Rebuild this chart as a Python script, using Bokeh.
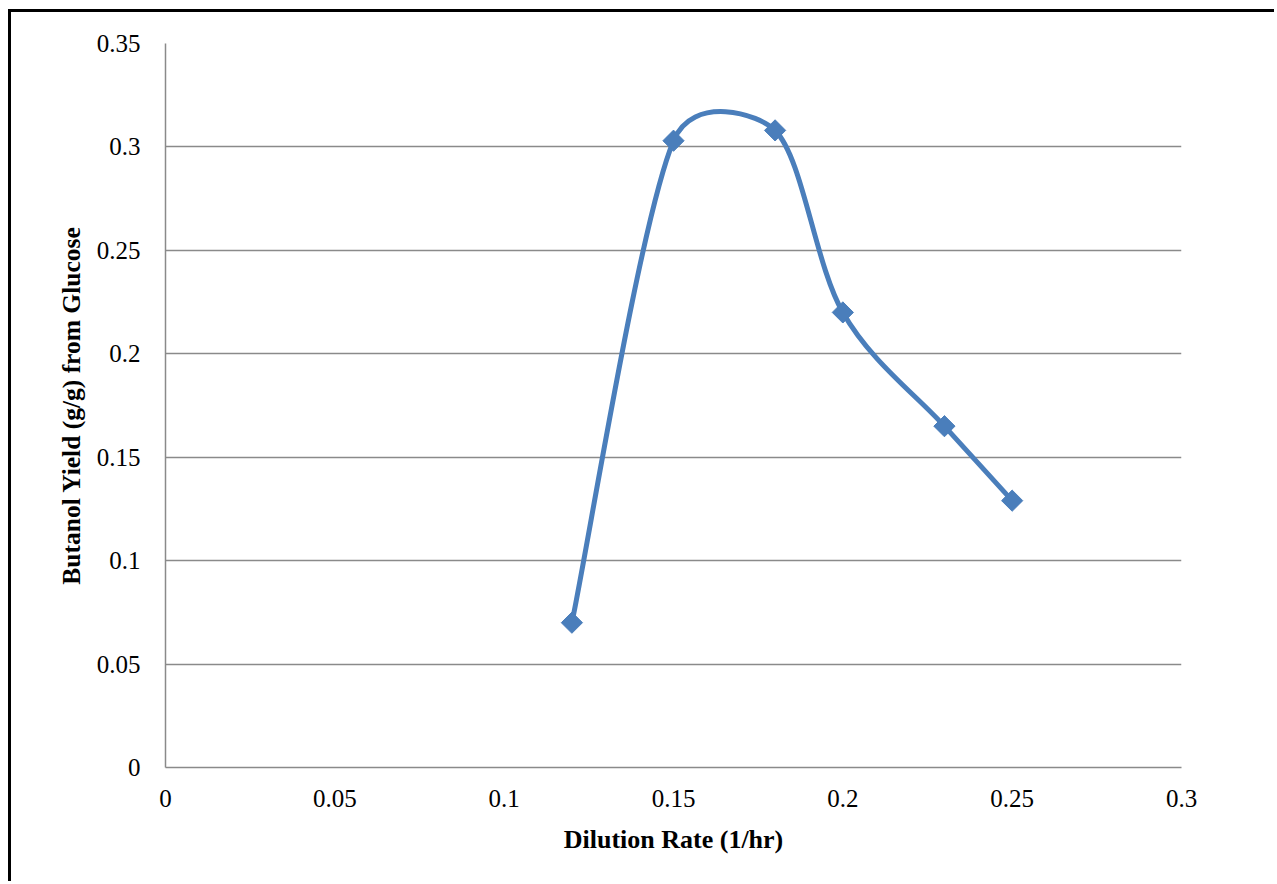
import math
from bokeh.plotting import figure
from bokeh.models import FixedTicker, Range1d
from bokeh.embed import file_html
from bokeh.resources import INLINE

# ---- data ----
dilution_rate = [0.12, 0.15, 0.18, 0.20, 0.23, 0.25]
butanol_yield = [0.070, 0.303, 0.308, 0.220, 0.165, 0.129]

x_ticks = [0, 0.05, 0.1, 0.15, 0.2, 0.25, 0.3]
x_tick_labels = ["0", "0.05", "0.1", "0.15", "0.2", "0.25", "0.3"]
y_ticks = [0, 0.05, 0.1, 0.15, 0.2, 0.25, 0.3, 0.35]
y_tick_labels = ["0", "0.05", "0.1", "0.15", "0.2", "0.25", "0.3", "0.35"]

x_title = "Dilution Rate (1/hr)"
y_title = "Butanol Yield (g/g) from Glucose"

# ---- layout ----
W, H = 1266, 872
FL, FT, FR, FB = 154, 31, 96, 117
FW = W - FL - FR
FH = H - FT - FB
X_MAX, Y_MAX = 0.3, 0.35

FONT = "Liberation Serif"
BLUE = "#4A7EBB"
GRID = "#8a8a8a"

p = figure(width=W, height=H, output_backend="svg", toolbar_location=None,
           x_range=Range1d(0, X_MAX), y_range=Range1d(0, Y_MAX),
           min_border_left=FL, min_border_top=FT, min_border_right=FR,
           min_border_bottom=FB)
p.styles = {"border-left": "3px solid black", "border-top": "3px solid black",
            "margin-left": "8px", "margin-top": "9px"}
p.outline_line_color = None
p.background_fill_color = "white"
p.border_fill_color = "white"

# axes
p.xaxis.ticker = FixedTicker(ticks=x_ticks)
p.yaxis.ticker = FixedTicker(ticks=y_ticks)
p.xaxis.major_label_overrides = {t: l for t, l in zip(x_ticks, x_tick_labels)}
p.yaxis.major_label_overrides = {t: l for t, l in zip(y_ticks, y_tick_labels)}
for ax in (p.xaxis[0], p.yaxis[0]):
    ax.major_tick_out = 0
    ax.major_tick_in = 0
    ax.minor_tick_out = 0
    ax.minor_tick_in = 0
    ax.axis_line_color = GRID
    ax.axis_line_width = 1.5
    ax.major_label_text_font = FONT
    ax.major_label_text_font_size = "25px"
    ax.major_label_text_color = "black"
    ax.axis_label_text_font = FONT
    ax.axis_label_text_font_style = "bold"
    ax.axis_label_text_color = "black"
p.xaxis.axis_label_text_font_size = "26px"
p.yaxis.axis_label_text_font_size = "25.5px"
p.xaxis.axis_label = x_title
p.yaxis.axis_label = y_title
p.xaxis.major_label_standoff = 22
p.yaxis.major_label_standoff = 25
p.xaxis.axis_label_standoff = 15
p.yaxis.axis_label_standoff = 8

p.xgrid.grid_line_color = None
p.ygrid.grid_line_color = GRID
p.ygrid.grid_line_width = 1.5

# ---- smoothed line (Excel-like Bezier smoothing computed in pixel space) ----
sx = FW / X_MAX
sy = FH / Y_MAX
pts = [(x * sx, y * sy) for x, y in zip(dilution_rate, butanol_yield)]
n = len(pts)


def dist(a, b):
    return math.hypot(a[0] - b[0], a[1] - b[1])


bx0, by0, bx1, by1, bcx0, bcy0, bcx1, bcy1 = ([] for _ in range(8))
for i in range(n - 1):
    p0 = pts[i - 1] if i > 0 else pts[i]
    p1 = pts[i]
    p2 = pts[i + 1]
    p3 = pts[i + 2] if i + 2 < n else pts[i + 1]
    d02 = dist(p0, p2)
    d12 = dist(p1, p2)
    d13 = dist(p1, p3)
    f = 1.0 / 6.0
    f1 = f2 = f
    r1 = (d12 / 2) / (d02 * f) if d02 * f >= d12 / 2 and d02 > 0 else 1.0
    r2 = (d12 / 2) / (d13 * f) if d13 * f >= d12 / 2 and d13 > 0 else 1.0
    r = min(r1, r2)
    if r1 < 1 and r2 < 1:
        f1, f2 = f * r1, f * r2
    else:
        f1 = f2 = f * r
    c1 = (p1[0] + f1 * (p2[0] - p0[0]), p1[1] + f1 * (p2[1] - p0[1]))
    c2 = (p2[0] - f2 * (p3[0] - p1[0]), p2[1] - f2 * (p3[1] - p1[1]))
    bx0.append(p1[0] / sx); by0.append(p1[1] / sy)
    bx1.append(p2[0] / sx); by1.append(p2[1] / sy)
    bcx0.append(c1[0] / sx); bcy0.append(c1[1] / sy)
    bcx1.append(c2[0] / sx); bcy1.append(c2[1] / sy)

p.bezier(x0=bx0, y0=by0, x1=bx1, y1=by1, cx0=bcx0, cy0=bcy0, cx1=bcx1, cy1=bcy1,
         line_color=BLUE, line_width=5, line_cap="round")

p.scatter(x=dilution_rate, y=butanol_yield, marker="square", angle=math.pi / 4,
          size=15, fill_color=BLUE, line_color=BLUE, line_width=1)

open("out.html", "w").write(file_html(p, INLINE))
